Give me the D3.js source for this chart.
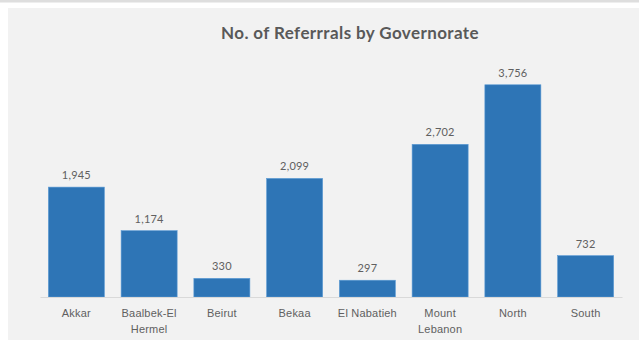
<!DOCTYPE html>
<html>
<head>
<meta charset="utf-8">
<script src="https://cdn.jsdelivr.net/npm/d3@7"></script>
<style>
  html, body { margin: 0; padding: 0; background: #ffffff; }
  svg { display: block; font-family: Lato, "Open Sans", sans-serif; }
</style>
</head>
<body>
<div id="chart"></div>
<script>
// Data
const governorates = ['Akkar', 'Baalbek-El Hermel', 'Beirut', 'Bekaa', 'El Nabatieh', 'Mount Lebanon', 'North', 'South'];
const categoryLines = [['Akkar'], ['Baalbek-El', 'Hermel'], ['Beirut'], ['Bekaa'], ['El Nabatieh'], ['Mount', 'Lebanon'], ['North'], ['South']];
const referrals = [1945, 1174, 330, 2099, 297, 2702, 3756, 732];
const yDomain = [0, 4000];

const width = 639, height = 341;
const plot = { left: 40, right: 622, top: 71, bottom: 297 };

const svg = d3.select('#chart')
    .append('svg')
    .attr('width', width)
    .attr('height', height);

// Outer frame: thin grey strip on top, chart area panel
svg.append('rect')
    .attr('x', 0).attr('y', 0)
    .attr('width', width).attr('height', 2.5)
    .attr('fill', '#dedede');

svg.append('rect')
    .attr('x', 8).attr('y', 8)
    .attr('width', width - 8).attr('height', 332)
    .attr('fill', '#f2f2f2');

svg.append('text')
    .attr('x', 350)
    .attr('y', 39)
    .attr('text-anchor', 'middle')
    .attr('font-size', 17)
    .attr('font-weight', 'bold')
    .attr('letter-spacing', 0.4)
    .attr('fill', '#595959')
    .text('No. of Referrrals by Governorate');

const x = d3.scaleBand()
    .domain(governorates)
    .range([plot.left, plot.right])
    .paddingInner(0.23)
    .paddingOuter(0.115);

const y = d3.scaleLinear()
    .domain(yDomain)
    .range([plot.bottom, plot.top]);

const data = governorates.map((g, i) => ({ name: g, value: referrals[i], lines: categoryLines[i] }));

// Bars
svg.append('g')
    .selectAll('rect')
    .data(data)
    .join('rect')
    .attr('x', d => x(d.name))
    .attr('y', d => y(d.value))
    .attr('width', x.bandwidth())
    .attr('height', d => y(0) - y(d.value))
    .attr('fill', '#2e75b6')
    .attr('stroke', '#5b9bd5')
    .attr('stroke-width', 0.6);

// Value labels
svg.append('g')
    .selectAll('text')
    .data(data)
    .join('text')
    .attr('x', d => x(d.name) + x.bandwidth() / 2)
    .attr('y', d => y(d.value) - 8)
    .attr('text-anchor', 'middle')
    .attr('font-size', 11)
    .attr('letter-spacing', 0.2)
    .attr('fill', '#606060')
    .text(d => d3.format(',')(d.value));

// Category axis
const xAxis = svg.append('g')
    .attr('transform', `translate(0,${plot.bottom})`)
    .call(d3.axisBottom(x).tickSize(0).tickFormat(''));

xAxis.select('.domain')
    .attr('stroke', '#d9d9d9')
    .attr('stroke-width', 1);

xAxis.selectAll('.tick text').remove();

xAxis.selectAll('.tick')
    .append('text')
    .attr('fill', '#606060')
    .attr('font-size', 11)
    .attr('letter-spacing', 0.2)
    .attr('text-anchor', 'middle')
    .selectAll('tspan')
    .data(d => categoryLines[governorates.indexOf(d)])
    .join('tspan')
    .attr('x', 0)
    .attr('y', (d, i) => 20 + i * 16)
    .text(d => d);
</script>
</body>
</html>
